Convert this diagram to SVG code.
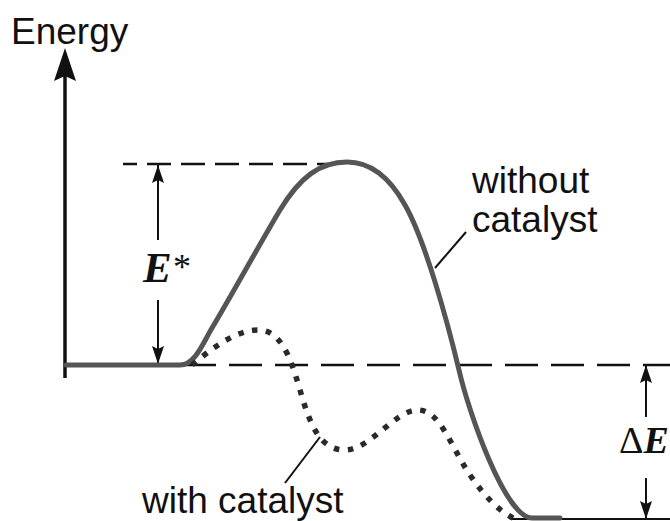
<svg xmlns="http://www.w3.org/2000/svg" width="670" height="521" viewBox="0 0 670 521">
<defs>
<style>
.lbl{font-family:"Liberation Sans",Arial,sans-serif;font-size:37px;fill:#111}
.math{font-family:"Liberation Serif","Times New Roman",serif;fill:#111}
.dash1{fill:none;stroke:#111;stroke-width:2.5;stroke-dasharray:24 10}
.dash2{fill:none;stroke:#111;stroke-width:2.5;stroke-dasharray:33 13}
.thin{fill:none;stroke:#111;stroke-width:2}
.solid{fill:none;stroke:#555;stroke-width:5;stroke-linejoin:round;stroke-linecap:round}
.dotted{fill:none;stroke:#2a2a2a;stroke-width:5.5;stroke-dasharray:5.5 8.5}
</style>
<marker id="ahb" viewBox="0 0 18 12" refX="18" refY="6" markerWidth="18" markerHeight="12" markerUnits="userSpaceOnUse" orient="auto">
<path d="M0,0 L18,6 L0,12 L3,6 Z" fill="#111"/>
</marker>
</defs>
<rect width="670" height="521" fill="#fff"/>

<g id="axis">
<line x1="65" y1="378" x2="65" y2="72" stroke="#111" stroke-width="3.5"/>
<path d="M65,48 L76,81 L65,76 L54,81 Z" fill="#111"/>
<text class="lbl" x="11" y="44">Energy</text>
</g>

<g id="connectors">
<line class="dash1" x1="123" y1="164" x2="335" y2="164" stroke-dashoffset="10"/>
<line class="dash2" x1="91" y1="365" x2="670" y2="365"/>
<line class="thin" x1="510" y1="519" x2="670" y2="519"/>
<line class="thin" x1="158" y1="240" x2="158" y2="165" marker-end="url(#ahb)"/>
<line class="thin" x1="158" y1="300" x2="158" y2="364" marker-end="url(#ahb)"/>
<line class="thin" x1="646" y1="417" x2="646" y2="365" marker-end="url(#ahb)"/>
<line class="thin" x1="646" y1="478" x2="646" y2="519" marker-end="url(#ahb)"/>
<line class="thin" x1="435" y1="268" x2="466" y2="232"/>
<line class="thin" x1="320" y1="437" x2="285" y2="483"/>
</g>

<g id="without-catalyst">
<path class="solid" d="M66,365 H180 C195,365 203,343 212,328 C230,298 262,240 280,210 C300,177 320,162 347,162 C372,162 390,178 405,205 C425,240 447,320 459,370 C468,410 505,518 532,518 H560"/>
<text class="lbl" x="472" y="193">without</text>
<text class="lbl" x="472" y="232">catalyst</text>
</g>

<g id="with-catalyst">
<path class="dotted" d="M192,365 C210,350 235,330 258,330 C280,330 290,355 300,390 C310,425 320,450 345,450 C370,450 395,410 418,410 C440,410 450,445 470,475 C485,497 500,512 515,519"/>
<text class="lbl" x="142" y="513">with catalyst</text>
</g>

<g id="label-Estar">
<text class="math" x="143" y="282" font-size="43" font-weight="bold" font-style="italic">E</text>
<text class="math" x="173" y="279" font-size="36">*</text>
</g>

<g id="label-deltaE">
<text class="math" x="619" y="453" font-size="38">Δ<tspan font-weight="bold" font-style="italic">E</tspan></text>
</g>
</svg>
